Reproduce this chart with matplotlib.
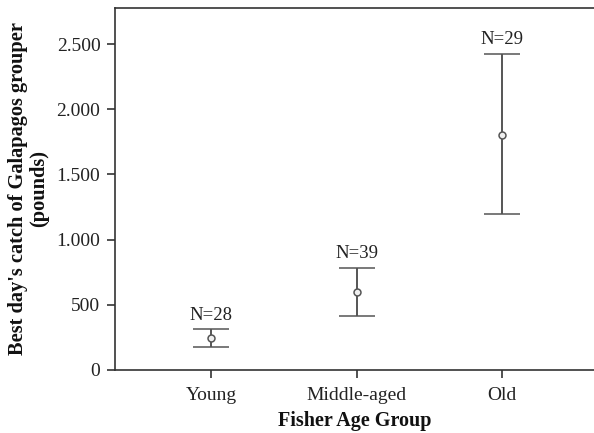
import matplotlib
matplotlib.use("Agg")
import matplotlib.pyplot as plt
from matplotlib.ticker import FuncFormatter

categories = ["Young", "Middle-aged", "Old"]
means = [245, 598, 1802]
upper = [314, 782, 2423]
lower = [176, 414, 1196]
n_labels = ["N=28", "N=39", "N=29"]
yticks = [0, 500, 1000, 1500, 2000, 2500]

plt.rcParams['font.family'] = ['Liberation Serif', 'DejaVu Serif']

fig = plt.figure(figsize=(5.94, 4.33), dpi=100)
ax = fig.add_axes([115/594, 1-370/433, 1-115/594, (370-7.5)/433])

x = list(range(len(categories)))
yerr = [[m - l for m, l in zip(means, lower)], [u - m for m, u in zip(means, upper)]]
ax.errorbar(x, means, yerr=yerr, fmt='o', color='#555555', ecolor='#555555',
            elinewidth=1.4, capsize=13, capthick=1.4, markersize=5,
            markerfacecolor='#f0f0f0', markeredgecolor='#555555', markeredgewidth=1.1)

for xi, u, t in zip(x, upper, n_labels):
    ax.annotate(t, (xi, u), xytext=(0, 4), textcoords='offset points',
                ha='center', va='bottom', fontsize=13.5, color='#222222')

ax.set_xlim(-0.66, 2.63)
ax.set_ylim(0, 2780)
ax.set_xticks(x)
ax.set_xticklabels(categories)
ax.set_yticks(yticks)
ax.yaxis.set_major_formatter(FuncFormatter(lambda v, p: f"{int(v):,}".replace(",", ".")))

ax.spines['right'].set_visible(False)
for s in ['left', 'top', 'bottom']:
    ax.spines[s].set_linewidth(1.2)
    ax.spines[s].set_color('#333333')
ax.tick_params(axis='both', direction='out', length=5.5, width=1.2, color='#333333',
               labelsize=14, labelcolor='#222222')
ax.tick_params(axis='x', pad=7)
ax.tick_params(axis='y', pad=5)

ax.set_xlabel("Fisher Age Group", fontsize=14.5, fontweight='bold', color='#111111', labelpad=5)
ax.set_ylabel("Best day's catch of Galapagos grouper\n(pounds)", fontsize=14.7,
              fontweight='bold', color='#111111', labelpad=5, linespacing=1.1)

fig.savefig("out.png", dpi=100)
